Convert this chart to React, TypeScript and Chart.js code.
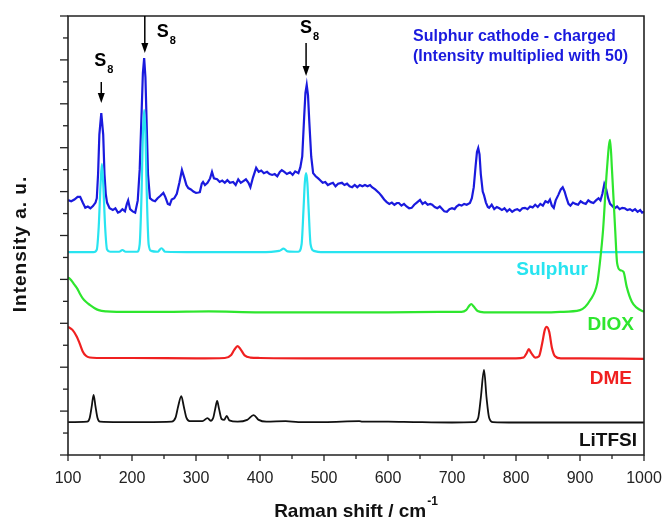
import React, { useEffect, useRef } from 'react';
import { Chart, registerables } from 'chart.js';
Chart.register(...registerables);

// ---------- data ----------
const seriesNames = ['Sulphur cathode - charged', 'Sulphur', 'DIOX', 'DME', 'LiTFSI'];
const xTickValues = [100, 200, 300, 400, 500, 600, 700, 800, 900, 1000];

const chargedX = [
  100,105,110,115,119,123,127,131,135,139,143,145,147,149,152,
  155,157,159,161,165,170,174,178,181,185,189,192,194,197,201,
  205,209,212,215,217,219,221,223,225,228,232,236,240,244,249,
  252,256,259,262,266,270,274,278,282,285,288,292,296,300,304,
  306,309,311,314,318,322,325,328,333,337,341,345,349,353,358,
  362,366,370,374,378,382,385,389,394,398,402,406,411,415,419,
  423,427,431,434,438,442,447,451,455,460,463,466,469,471,473,
  475,477,480,483,487,491,494,498,502,506,510,514,518,522,528,
  532,536,540,544,548,552,556,560,564,568,572,575,580,586,590,
  594,598,602,606,610,614,617,621,625,629,633,637,641,645,650,
  654,658,662,666,669,673,677,681,685,688,692,696,700,704,707,
  711,715,719,723,728,731,734,737,739,741,743,745,748,750,753,
  756,758,762,766,770,774,778,782,786,790,794,798,802,806,810,
  814,818,822,826,830,834,838,842,846,850,853,856,859,862,866,
  870,873,876,879,882,885,889,893,897,901,905,909,913,917,921,
  925,929,932,935,938,941,944,947,950,954,958,962,966,970,974,
  978,982,986,990,994,997,1000,
];
const chargedY = [
  5.81,5.78,5.82,5.88,5.88,5.75,5.63,5.66,5.62,5.67,5.75,5.85,6.4,7.3,7.79,
  7.3,6.4,5.95,5.75,5.62,5.58,5.62,5.52,5.54,5.6,5.55,5.72,5.8,5.6,5.55,
  5.52,5.8,6.5,7.8,8.7,9.04,8.6,7.5,6.4,5.85,5.8,5.78,5.85,5.9,5.97,
  5.88,5.72,5.7,5.82,5.85,5.95,6.2,6.49,6.3,6.15,6.08,6.05,6.0,5.97,5.98,
  5.99,6.18,6.22,6.15,6.2,6.3,6.45,6.3,6.28,6.22,6.25,6.2,6.26,6.2,6.22,
  6.15,6.28,6.2,6.24,6.28,6.2,6.1,6.32,6.54,6.45,6.48,6.42,6.45,6.4,6.38,
  6.4,6.35,6.45,6.49,6.45,6.4,6.44,6.38,6.46,6.42,6.55,6.8,7.7,8.25,8.43,
  8.2,7.6,6.8,6.42,6.35,6.3,6.26,6.2,6.22,6.15,6.18,6.2,6.12,6.18,6.2,
  6.15,6.18,6.12,6.1,6.15,6.1,6.15,6.12,6.15,6.12,6.15,6.1,6.05,5.97,5.9,
  5.82,5.76,5.72,5.75,5.7,5.74,5.74,5.68,5.72,5.66,5.62,5.63,5.7,5.75,5.81,
  5.72,5.76,5.7,5.72,5.7,5.65,5.62,5.66,5.6,5.55,5.54,5.6,5.62,5.6,5.66,
  5.7,5.68,5.72,5.7,5.74,5.85,6.1,6.6,6.9,6.99,6.85,6.4,6.0,5.92,5.75,
  5.65,5.63,5.7,5.6,5.65,5.62,5.58,5.62,5.55,5.6,5.54,5.58,5.6,5.56,5.62,
  5.63,5.6,5.66,5.64,5.7,5.65,5.72,5.68,5.78,5.75,5.82,5.68,5.63,5.8,5.92,
  6.05,6.1,6.0,5.85,5.72,5.68,5.75,5.72,5.7,5.78,5.74,5.72,5.8,5.76,5.74,
  5.8,5.85,5.8,5.95,6.17,6.05,5.85,5.72,5.68,5.62,5.66,5.6,5.63,5.62,5.58,
  5.6,5.56,5.6,5.54,5.58,5.52,5.54,
];

const sulphurX = [100,140,145,148,151,153,155,158,161,166,180,185,190,208,212,215,217,219,221,223,226,230,240,246,252,300,400,430,437,443,460,465,468,470,472,474,476,479,484,500,600,800,1000];
const sulphurY = [4.62,4.62,4.68,5.2,6.2,6.63,6.2,5.2,4.68,4.63,4.63,4.67,4.63,4.63,4.8,6.0,7.3,7.86,7.3,6.0,4.8,4.65,4.63,4.71,4.63,4.62,4.62,4.65,4.70,4.64,4.63,4.8,5.6,6.2,6.42,6.2,5.6,4.8,4.65,4.62,4.62,4.62,4.62];

const dioxX = [100,105,110,114,118,123,128,134,141,148,160,176,250,320,400,500,600,680,715,722,727,730,734,740,750,850,869,900,916,927,931,936,942,947,950,955,958,963,968,973,981,989,1000];
const dioxY = [4.05,3.98,3.88,3.80,3.69,3.57,3.49,3.42,3.35,3.30,3.27,3.26,3.26,3.27,3.25,3.25,3.25,3.26,3.26,3.30,3.40,3.44,3.38,3.28,3.25,3.25,3.26,3.30,3.53,3.92,4.37,5.12,6.49,7.18,6.49,5.12,4.37,4.21,4.17,3.83,3.49,3.35,3.26];

const dmeX = [100,107,114,118,123,128,134,145,200,300,345,355,360,365,370,376,385,400,500,600,700,800,812,817,820,824,830,836,841,845,848,852,856,861,870,900,1000];
const dmeY = [2.92,2.85,2.69,2.55,2.36,2.26,2.22,2.21,2.21,2.20,2.21,2.28,2.40,2.48,2.40,2.27,2.22,2.21,2.20,2.20,2.20,2.20,2.22,2.33,2.41,2.32,2.22,2.25,2.55,2.85,2.92,2.80,2.45,2.25,2.20,2.20,2.19];

const litfsiX = [100,130,134,137,140,143,146,150,180,220,262,268,272,277,281,285,290,310,318,323,327,330,333,336,340,344,348,352,365,380,390,398,410,440,460,500,555,560,600,640,700,735,741,745,750,754,758,764,800,900,1000];
const litfsiY = [0.75,0.76,0.85,1.10,1.37,1.10,0.85,0.76,0.75,0.75,0.76,0.85,1.10,1.34,1.10,0.85,0.77,0.77,0.84,0.78,0.85,1.05,1.23,1.05,0.82,0.80,0.89,0.79,0.76,0.80,0.91,0.80,0.76,0.77,0.75,0.75,0.77,0.76,0.76,0.75,0.74,0.75,0.85,1.30,1.94,1.30,0.85,0.75,0.74,0.74,0.74];

// peak markers (wavenumber of arrow)
const s8Peaks = [152, 220, 472];

// ---------- styles ----------
const COLORS = ['#1a1ade', '#28e4f0', '#2ee62e', '#f02020', '#111111'];
const FONT = '"Liberation Sans", Arial, Helvetica, sans-serif';

const pts = (xs: number[], ys: number[]) => xs.map((x, i) => ({ x, y: ys[i] }));

const overlayPlugin = {
  id: 'overlay',
  afterDraw(chart: any) {
    const { ctx, chartArea: ca, scales } = chart;
    const xs = scales.x;
    const ys = scales.y;
    ctx.save();
    // frame
    ctx.strokeStyle = '#222';
    ctx.lineWidth = 1.6;
    ctx.beginPath();
    ctx.moveTo(ca.left, ca.top);
    ctx.lineTo(ca.right, ca.top);
    ctx.lineTo(ca.right, ca.bottom);
    ctx.lineTo(ca.left, ca.bottom);
    ctx.closePath();
    ctx.stroke();
    // x ticks
    ctx.lineWidth = 1.3;
    for (let v = 100; v <= 1000; v += 50) {
      const px = xs.getPixelForValue(v);
      const len = v % 100 === 0 ? 6 : 4;
      ctx.beginPath();
      ctx.moveTo(px, ca.bottom);
      ctx.lineTo(px, ca.bottom + len);
      ctx.stroke();
    }
    // y ticks
    for (let v = 0; v <= 10.001; v += 0.5) {
      const py = ys.getPixelForValue(v);
      const len = Math.abs(v - Math.round(v)) < 1e-6 ? 8 : 5;
      ctx.beginPath();
      ctx.moveTo(ca.left, py);
      ctx.lineTo(ca.left - len, py);
      ctx.stroke();
    }

    // S8 arrows
    const arrow = (x: number, y1: number, y2: number) => {
      ctx.strokeStyle = '#000';
      ctx.fillStyle = '#000';
      ctx.lineWidth = 1.5;
      ctx.beginPath();
      ctx.moveTo(x, y1);
      ctx.lineTo(x, y2 - 8);
      ctx.stroke();
      ctx.beginPath();
      ctx.moveTo(x - 3.5, y2 - 10);
      ctx.lineTo(x + 3.5, y2 - 10);
      ctx.lineTo(x, y2);
      ctx.closePath();
      ctx.fill();
    };
    const s8 = (x: number, base: number) => {
      ctx.fillStyle = '#000';
      ctx.textAlign = 'left';
      ctx.textBaseline = 'alphabetic';
      ctx.font = `bold 18px ${FONT}`;
      ctx.fillText('S', x, base);
      const w = ctx.measureText('S').width;
      ctx.font = `bold 11px ${FONT}`;
      ctx.fillText('8', x + w + 1, base + 7);
    };
    const a1 = xs.getPixelForValue(s8Peaks[0]);
    const a2 = xs.getPixelForValue(s8Peaks[1]);
    const a3 = xs.getPixelForValue(s8Peaks[2]);
    arrow(a1, ca.top + 66, ca.top + 87);
    s8(a1 - 7, ca.top + 50);
    arrow(a2, ca.top, ca.top + 37);
    s8(a2 + 12, ca.top + 21);
    arrow(a3, ca.top + 27, ca.top + 60);
    s8(a3 - 6, ca.top + 17);

    // blue title text
    ctx.fillStyle = COLORS[0];
    ctx.font = `bold 16px ${FONT}`;
    ctx.textAlign = 'left';
    ctx.fillText(seriesNames[0], 413, 41);
    ctx.fillText('(Intensity multiplied with 50)', 413, 61);

    // series labels
    ctx.font = `bold 19px ${FONT}`;
    ctx.textAlign = 'right';
    ctx.fillStyle = COLORS[1];
    ctx.fillText(seriesNames[1], 588, 275);
    ctx.fillStyle = COLORS[2];
    ctx.fillText(seriesNames[2], 634, 330);
    ctx.fillStyle = COLORS[3];
    ctx.fillText(seriesNames[3], 632, 384);
    ctx.fillStyle = COLORS[4];
    ctx.fillText(seriesNames[4], 637, 446);

    // axis titles
    ctx.fillStyle = '#111';
    ctx.font = `bold 19px ${FONT}`;
    const main = 'Raman shift / cm';
    const mw = ctx.measureText(main).width;
    ctx.font = `bold 12px ${FONT}`;
    const sw = ctx.measureText('-1').width;
    const cx = (ca.left + ca.right) / 2;
    const startX = cx - (mw + sw + 1) / 2;
    ctx.textAlign = 'left';
    ctx.font = `bold 19px ${FONT}`;
    ctx.fillText(main, startX, 517);
    ctx.font = `bold 12px ${FONT}`;
    ctx.fillText('-1', startX + mw + 1, 505);

    ctx.save();
    ctx.translate(26, 244);
    ctx.rotate(-Math.PI / 2);
    ctx.textAlign = 'center';
    ctx.font = `bold 19px ${FONT}`;
    (ctx as any).letterSpacing = '1px';
    ctx.fillText('Intensity a. u.', 0, 0);
    ctx.restore();

    ctx.restore();
  },
};

export default function App() {
  const ref = useRef<HTMLCanvasElement | null>(null);
  useEffect(() => {
    document.body.style.margin = '0';
    if (!ref.current) return;
    const common = { pointRadius: 0, borderWidth: 2.2, fill: false };
    const chart = new Chart(ref.current, {
      type: 'line',
      data: {
        datasets: [
          { ...common, label: seriesNames[2], data: pts(dioxX, dioxY), borderColor: COLORS[2], cubicInterpolationMode: 'monotone', order: 0 },
          { ...common, label: seriesNames[1], data: pts(sulphurX, sulphurY), borderColor: COLORS[1], cubicInterpolationMode: 'monotone', order: 1 },
          { ...common, label: seriesNames[0], data: pts(chargedX, chargedY), borderColor: COLORS[0], tension: 0, order: 2 },
          { ...common, label: seriesNames[3], data: pts(dmeX, dmeY), borderColor: COLORS[3], cubicInterpolationMode: 'monotone', order: 3 },
          { ...common, label: seriesNames[4], data: pts(litfsiX, litfsiY), borderColor: COLORS[4], cubicInterpolationMode: 'monotone', borderWidth: 1.8, order: 4 },
        ] as any,
      },
      options: {
        responsive: false,
        animation: false,
        events: [],
        layout: { padding: { top: 16, right: 20, left: 0, bottom: 0 } },
        plugins: { legend: { display: false }, tooltip: { enabled: false } },
        scales: {
          x: {
            type: 'linear',
            min: 100,
            max: 1000,
            afterFit: (s: any) => { s.height = 67; s.paddingLeft = 0; s.paddingRight = 0; },
            afterBuildTicks: (s: any) => { s.ticks = xTickValues.map((v) => ({ value: v })); },
            grid: { display: false, drawTicks: false },
            border: { display: false },
            ticks: {
              padding: 14,
              color: '#222',
              font: { family: FONT, size: 16 },
              maxRotation: 0,
              autoSkip: false,
              callback: (v: any) => String(v),
            },
          },
          y: {
            type: 'linear',
            min: 0,
            max: 10,
            afterFit: (s: any) => { s.width = 68; s.paddingTop = 0; s.paddingBottom = 0; },
            grid: { display: false, drawTicks: false },
            border: { display: false },
            ticks: { display: false },
          },
        },
      },
      plugins: [overlayPlugin],
    } as any);
    return () => chart.destroy();
  }, []);
  return <canvas ref={ref} width={664} height={522} style={{ display: 'block' }} />;
}
